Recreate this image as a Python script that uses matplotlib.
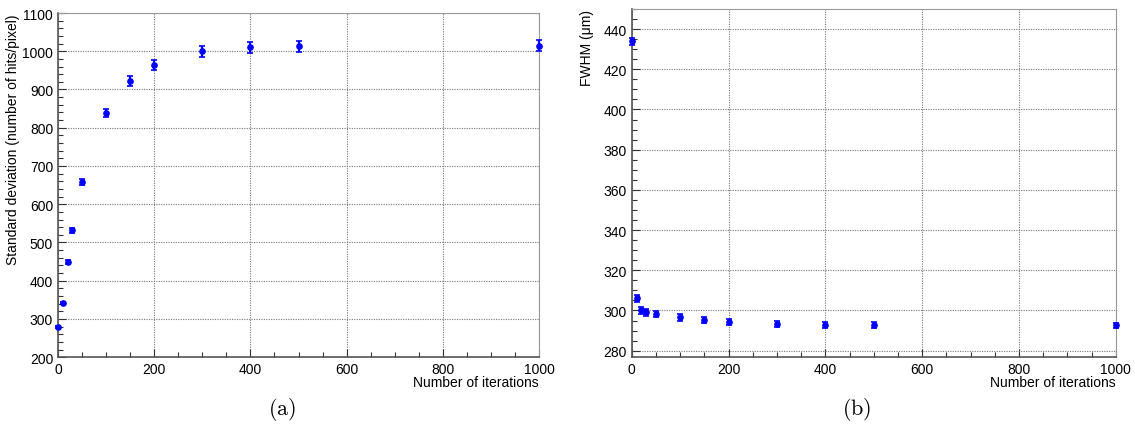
import numpy as np
import matplotlib.pyplot as plt
from matplotlib.ticker import MultipleLocator

plt.rcParams['font.family'] = ['Liberation Sans', 'DejaVu Sans']
plt.rcParams['mathtext.fontset'] = 'cm'

# iterations
iterations = [0, 10, 20, 30, 50, 100, 150, 200, 300, 400, 500, 1000]

# (a) standard deviation
std_dev = [279, 342, 449, 532, 659, 838, 922, 965, 1000, 1010, 1013, 1015]
std_err = [2, 3, 5, 6, 8, 10, 12, 13, 15, 15, 15, 15]

# (b) FWHM
fwhm = [434, 306, 300, 299, 298.3, 296.5, 295.2, 294.3, 293.3, 292.8, 292.8, 292.6]
fwhm_err = [1.8, 1.8, 1.6, 1.6, 1.6, 1.5, 1.5, 1.5, 1.4, 1.4, 1.4, 1.4]

fig = plt.figure(figsize=(11.35, 4.31), dpi=100)
ax1 = fig.add_axes([0.0511, 0.1689, 0.4238, 0.7986])
ax2 = fig.add_axes([0.5566, 0.1687, 0.4264, 0.8081])


def style(ax, ymin, ymax, ymajor, yminor):
    ax.set_xlim(0, 1000)
    ax.set_ylim(ymin, ymax)
    ax.xaxis.set_major_locator(MultipleLocator(200))
    ax.xaxis.set_minor_locator(MultipleLocator(50))
    ax.yaxis.set_major_locator(MultipleLocator(ymajor))
    ax.yaxis.set_minor_locator(MultipleLocator(yminor))
    ax.tick_params(which='both', direction='in', top=False, right=False,
                   labelsize=10, color='#333333', pad=3.5)
    ax.tick_params(which='major', length=6, width=0.8)
    ax.tick_params(which='minor', length=3.5, width=0.8)
    ax.grid(True, which='major', color='#777777', linestyle=(0, (1, 1.2)), linewidth=0.8)
    for s in ['top', 'right']:
        ax.spines[s].set_color('#999999')
    for s in ['left', 'bottom']:
        ax.spines[s].set_color('#555555')
        ax.spines[s].set_linewidth(1.2)


ax1.errorbar(iterations, std_dev, yerr=std_err, fmt='o', color='#0000ff',
             markersize=3.8, elinewidth=1.6, capsize=2, capthick=1.2, clip_on=False, zorder=3)
style(ax1, 200, 1100, 100, 20)
ax1.set_xlabel('Number of iterations', fontsize=10)
ax1.xaxis.set_label_coords(1.0, -0.053)
ax1.xaxis.label.set_ha('right')
ax1.set_ylabel('Standard deviation (number of hits/pixel)', fontsize=10)
ax1.yaxis.set_label_coords(-0.078, 1.0)
ax1.yaxis.label.set_ha('right')

ax2.errorbar(iterations, fwhm, yerr=fwhm_err, fmt='o', color='#0000ff',
             markersize=3.8, elinewidth=1.6, capsize=2, capthick=1.2, clip_on=False, zorder=3)
style(ax2, 276.7, 450, 20, 5)
ax2.set_xlabel('Number of iterations', fontsize=10)
ax2.xaxis.set_label_coords(1.0, -0.052)
ax2.xaxis.label.set_ha('right')
ax2.set_ylabel('FWHM (\u03bcm)', fontsize=10)
ax2.yaxis.set_label_coords(-0.077, 1.0)
ax2.yaxis.label.set_ha('right')

fig.text(282 / 1135, 1 - 410 / 431, r'$\mathrm{(a)}$', fontsize=16, ha='center', va='center')
fig.text(857 / 1135, 1 - 410 / 431, r'$\mathrm{(b)}$', fontsize=16, ha='center', va='center')

fig.savefig('out.png', dpi=100)
